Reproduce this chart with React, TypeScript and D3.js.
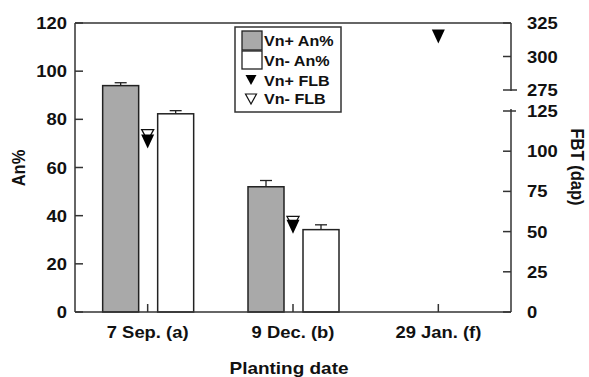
import * as d3 from 'd3';
import React from 'react';

const categories = ['7 Sep. (a)', '9 Dec. (b)', '29 Jan. (f)'];
const vnPlusAn = [94, 52, null];
const vnPlusAnErr = [1.2, 2.6, null];
const vnMinusAn = [82.3, 34.2, null];
const vnMinusAnErr = [1.3, 2, null];
const vnPlusFlb = [106, 53, 315];
const vnMinusFlb = [110, 56, null];
const leftTicks = [0, 20, 40, 60, 80, 100, 120];
const rightLowTicks = [0, 25, 50, 75, 100, 125];
const rightHighTicks = [275, 300, 325];

const W = 589, H = 377;
const left = 75, right = 511, top = 23, bottom = 312;
const FONT = 'Liberation Sans, Arial, sans-serif';
const SX = 1.15;

// stretched bold text, like the source image
function T(props) {
  const { x, y, anchor = 'start', size = 16, rotate = 0, children } = props;
  return (
    <g transform={`translate(${x},${y}) rotate(${rotate}) scale(${rotate ? 1 : SX},${rotate ? SX : 1})`}>
      <text textAnchor={anchor} fontSize={size} fontWeight="bold" fontFamily={FONT} fill="#111">{children}</text>
    </g>
  );
}

function tri(cx, cy, w, h, down = true) {
  return `M${cx - w / 2},${cy - h / 2}L${cx + w / 2},${cy - h / 2}L${cx},${cy + h / 2}Z`;
}

export default function App() {
  const x = d3.scaleBand().domain(categories).range([left, right]);
  const cx = (c) => x(c) + x.bandwidth() / 2;
  const yL = d3.scaleLinear().domain([0, 120]).range([bottom, top]);
  const yRLow = d3.scaleLinear().domain([0, 125]).range([bottom, 111]);
  const yRHigh = d3.scaleLinear().domain([275, 325]).range([90, top]);
  const yR = (v) => (v > 200 ? yRHigh(v) : yRLow(v));

  const barW = 36;
  const axisColor = '#333';

  return (
    <svg width={W} height={H} style={{ position: 'absolute', left: 0, top: 0, background: '#fff' }}>
      {/* bars */}
      {categories.map((c, i) => (
        <g key={c}>
          {vnPlusAn[i] != null && (
            <g>
              <line x1={cx(c) - 27} x2={cx(c) - 27} y1={yL(vnPlusAn[i])} y2={yL(vnPlusAn[i] + vnPlusAnErr[i])} stroke="#222" strokeWidth={1.3} />
              <line x1={cx(c) - 33} x2={cx(c) - 21} y1={yL(vnPlusAn[i] + vnPlusAnErr[i])} y2={yL(vnPlusAn[i] + vnPlusAnErr[i])} stroke="#222" strokeWidth={1.3} />
              <rect x={cx(c) - 45} y={yL(vnPlusAn[i])} width={barW} height={bottom - yL(vnPlusAn[i])} fill="#a9a9a9" stroke="#222" strokeWidth={1.5} />
            </g>
          )}
          {vnMinusAn[i] != null && (
            <g>
              <line x1={cx(c) + 28} x2={cx(c) + 28} y1={yL(vnMinusAn[i])} y2={yL(vnMinusAn[i] + vnMinusAnErr[i])} stroke="#222" strokeWidth={1.3} />
              <line x1={cx(c) + 22} x2={cx(c) + 34} y1={yL(vnMinusAn[i] + vnMinusAnErr[i])} y2={yL(vnMinusAn[i] + vnMinusAnErr[i])} stroke="#222" strokeWidth={1.3} />
              <rect x={cx(c) + 10} y={yL(vnMinusAn[i])} width={barW} height={bottom - yL(vnMinusAn[i])} fill="#fff" stroke="#222" strokeWidth={1.5} />
            </g>
          )}
        </g>
      ))}

      {/* FLB markers */}
      {categories.map((c, i) => (
        <g key={'m' + c}>
          {vnMinusFlb[i] != null && (
            <path d={tri(cx(c), yR(vnMinusFlb[i]), 12, 11)} fill="#fff" stroke="#111" strokeWidth={1.3} />
          )}
          {vnPlusFlb[i] != null && (
            <path d={tri(cx(c), yR(vnPlusFlb[i]), 13, 14)} fill="#000" />
          )}
        </g>
      ))}

      {/* frame */}
      <line x1={left} x2={right} y1={top} y2={top} stroke={axisColor} strokeWidth={1.5} />
      <line x1={left} x2={right} y1={bottom} y2={bottom} stroke={axisColor} strokeWidth={1.5} />
      <line x1={left} x2={left} y1={top} y2={bottom} stroke={axisColor} strokeWidth={1.5} />
      <line x1={right} x2={right} y1={top} y2={yRHigh(275) + 1} stroke={axisColor} strokeWidth={1.5} />
      <line x1={right} x2={right} y1={yRLow(125) - 2} y2={bottom} stroke={axisColor} strokeWidth={1.5} />

      {/* left axis */}
      {leftTicks.map((t) => (
        <g key={'l' + t}>
          <line x1={left} x2={left + 8} y1={yL(t)} y2={yL(t)} stroke={axisColor} strokeWidth={1.5} />
          <T x={left - 8} y={yL(t) + 6} anchor="end">{t}</T>
        </g>
      ))}

      {/* right axis */}
      {rightLowTicks.map((t) => (
        <g key={'r' + t}>
          <line x1={right - 8} x2={t === 125 ? right + 5 : right} y1={yRLow(t)} y2={yRLow(t)} stroke={axisColor} strokeWidth={1.5} />
          <T x={right + 16} y={yRLow(t) + 6}>{t}</T>
        </g>
      ))}
      {rightHighTicks.map((t) => (
        <g key={'h' + t}>
          <line x1={right - 8} x2={t === 275 ? right + 6 : right} y1={yRHigh(t)} y2={yRHigh(t)} stroke={axisColor} strokeWidth={1.5} />
          <T x={right + 16} y={yRHigh(t) + 6}>{t}</T>
        </g>
      ))}

      {/* x axis */}
      {categories.map((c) => (
        <g key={'x' + c}>
          <line x1={cx(c)} x2={cx(c)} y1={bottom} y2={bottom - 8} stroke={axisColor} strokeWidth={1.5} />
          <T x={cx(c)} y={338} anchor="middle">{c}</T>
        </g>
      ))}

      {/* axis titles */}
      <T x={289} y={374} anchor="middle" size={16.5}>Planting date</T>
      <T x={25} y={168} anchor="middle" rotate={-90} size={16.5}>An%</T>
      <T x={571} y={167} anchor="middle" rotate={90} size={16.5}>FBT (dap)</T>

      {/* legend */}
      <rect x={235} y={27} width={106} height={85} fill="#fff" stroke="#333" strokeWidth={1.5} />
      <rect x={242} y={31} width={20} height={19} fill="#a9a9a9" stroke="#222" strokeWidth={1.3} />
      <rect x={242} y={51} width={20} height={18} fill="#fff" stroke="#222" strokeWidth={1.3} />
      <path d={tri(251, 80, 11, 10)} fill="#000" />
      <path d={tri(251, 99, 11, 10)} fill="#fff" stroke="#111" strokeWidth={1.2} />
      <T x={264} y={46} size={14}>Vn+ An%</T>
      <T x={264} y={66} size={14}>Vn- An%</T>
      <T x={264} y={85.5} size={14}>Vn+ FLB</T>
      <T x={264} y={104} size={14}>Vn- FLB</T>
    </svg>
  );
}
